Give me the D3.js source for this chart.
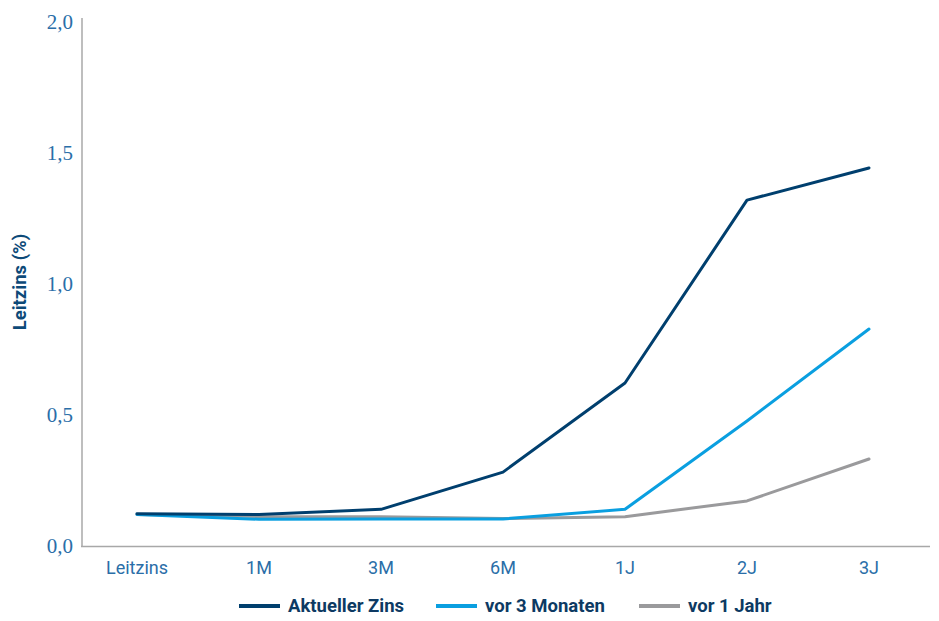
<!DOCTYPE html>
<html><head><meta charset="utf-8">
<script src="https://cdn.jsdelivr.net/npm/d3@7"></script>
<style>body{margin:0;background:#fff;}</style>
</head><body>
<svg id="c" width="939" height="621"></svg>
<script>
const categories = ["Leitzins","1M","3M","6M","1J","2J","3J"];
const seriesNames = ["Aktueller Zins","vor 3 Monaten","vor 1 Jahr"];
const aktuell = [0.123,0.12,0.14,0.282,0.622,1.32,1.443];
const vor3M = [0.12,0.102,0.103,0.103,0.14,0.477,0.828];
const vor1J = [0.12,0.112,0.112,0.105,0.112,0.172,0.332];
const yTicks = [0,0.5,1,1.5,2];
const colors = ["#003f6e","#0a9fe0","#9a9a9c"];

const svg = d3.select("#c");
const x = d3.scalePoint().domain(categories).range([137,869]);
const y = d3.scaleLinear().domain([0,2]).range([546,22]);
const fmt = d => d3.format(".1f")(d).replace(".",",");

// axes lines
svg.append("line").attr("x1",82).attr("x2",82).attr("y1",18).attr("y2",547).attr("stroke","#a8a8a8").attr("stroke-width",1.5);
svg.append("line").attr("x1",81).attr("x2",930).attr("y1",546.5).attr("y2",546.5).attr("stroke","#a8a8a8").attr("stroke-width",1.5);

// y ticks labels
svg.append("g").selectAll("text").data(yTicks).join("text")
  .attr("x",73).attr("y",d=>y(d)).attr("dy","0.35em").attr("text-anchor","end")
  .attr("font-family","Liberation Serif, DejaVu Serif, serif").attr("font-size",21)
  .attr("fill","#2a6ea8").text(fmt);

// x labels
svg.append("g").selectAll("text").data(categories).join("text")
  .attr("x",d=>x(d)).attr("y",574).attr("text-anchor","middle")
  .attr("font-family","Roboto, sans-serif").attr("font-size",18)
  .attr("fill","#2a6ea8").text(d=>d);

// y title
svg.append("text").attr("transform","translate(26,282) rotate(-90)").attr("text-anchor","middle")
  .attr("font-family","Roboto, sans-serif").attr("font-weight","bold").attr("font-size",18.5)
  .attr("fill","#0d4a78").text("Leitzins (%)");

const line = d3.line().x((d,i)=>x(categories[i])).y(d=>y(d));
const data = [vor1J, vor3M, aktuell];
const cols = [colors[2], colors[1], colors[0]];
data.forEach((s,k)=>{
  svg.append("path").datum(s).attr("d",line).attr("fill","none")
    .attr("stroke",cols[k]).attr("stroke-width",3).attr("stroke-linejoin","round").attr("stroke-linecap","round");
});

// legend
const legX = [239,436,639];
seriesNames.forEach((n,i)=>{
  svg.append("line").attr("x1",legX[i]).attr("x2",legX[i]+41).attr("y1",606).attr("y2",606)
    .attr("stroke",colors[i]).attr("stroke-width",4);
  svg.append("text").attr("x",legX[i]+49).attr("y",606).attr("dy","0.35em")
    .attr("font-family","Roboto, sans-serif").attr("font-weight","bold").attr("font-size",18.5)
    .attr("fill","#0d3a63").text(n);
});
</script>
</body></html>
